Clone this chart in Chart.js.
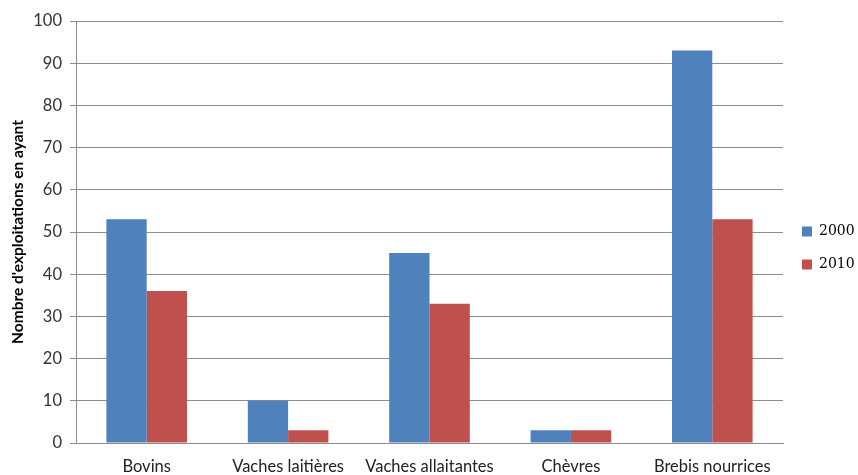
<!DOCTYPE html>
<html>
<head>
<meta charset="utf-8">
<script src="https://cdn.jsdelivr.net/npm/chart.js@4.4.1/dist/chart.umd.min.js"></script>
<style>
  html, body { margin: 0; padding: 0; background: #fff; }
  #wrap { width: 858px; height: 475px; }
</style>
</head>
<body>
<div id="wrap"><canvas id="chart"></canvas></div>
<script>
const categories = ["Bovins", "Vaches laitières", "Vaches allaitantes", "Chèvres", "Brebis nourrices"];
const values2000 = [53, 10, 45, 3, 93];
const values2010 = [36, 3, 33, 3, 53];
const yTicks = [0, 10, 20, 30, 40, 50, 60, 70, 80, 90, 100];

const ctx = document.getElementById("chart");
new Chart(ctx, {
  type: "bar",
  data: {
    labels: categories,
    datasets: [
      {
        label: "2000",
        data: values2000,
        backgroundColor: "#4F81BD",
        categoryPercentage: 0.57,
        barPercentage: 1.0,
      },
      {
        label: "2010",
        data: values2010,
        backgroundColor: "#C0504D",
        categoryPercentage: 0.57,
        barPercentage: 1.0,
      },
    ],
  },
  options: {
    responsive: true,
    maintainAspectRatio: false,
    animation: false,
    layout: {
      padding: { top: 21, left: 0, right: 0, bottom: 0 },
    },
    plugins: {
      legend: {
        position: "right",
        maxWidth: 75,
        labels: {
          boxWidth: 10,
          boxHeight: 10,
          padding: 19,
          color: "#000",
          font: { family: "'DejaVu Serif', 'Liberation Serif', serif", size: 14 },
        },
      },
      tooltip: { enabled: false },
    },
    scales: {
      x: {
        grid: { display: false },
        border: { display: true, color: "#8c8c8c" },
        ticks: {
          color: "#222",
          padding: 6,
          maxRotation: 0,
          autoSkip: false,
          font: { family: "Lato, 'Open Sans', sans-serif", size: 16.5 },
        },
        afterFit: function (scale) {
          scale.height = 32;
        },
      },
      y: {
        min: 0,
        max: 100,
        afterBuildTicks: function (scale) {
          scale.ticks = yTicks.map(function (v) { return { value: v }; });
        },
        grid: { color: "#8c8c8c", tickLength: 6 },
        border: { display: true, color: "#8c8c8c" },
        ticks: {
          color: "#333",
          padding: 8,
          font: { family: "Lato, 'Open Sans', sans-serif", size: 16.5 },
        },
        title: {
          display: true,
          text: "Nombre d'exploitations en ayant",
          color: "#000",
          padding: { top: 9, bottom: 0 },
          font: { family: "Lato, 'Open Sans', sans-serif", size: 15.5, weight: "bold" },
        },
        afterFit: function (scale) {
          scale.width = 76;
        },
      },
    },
  },
});
</script>
</body>
</html>
